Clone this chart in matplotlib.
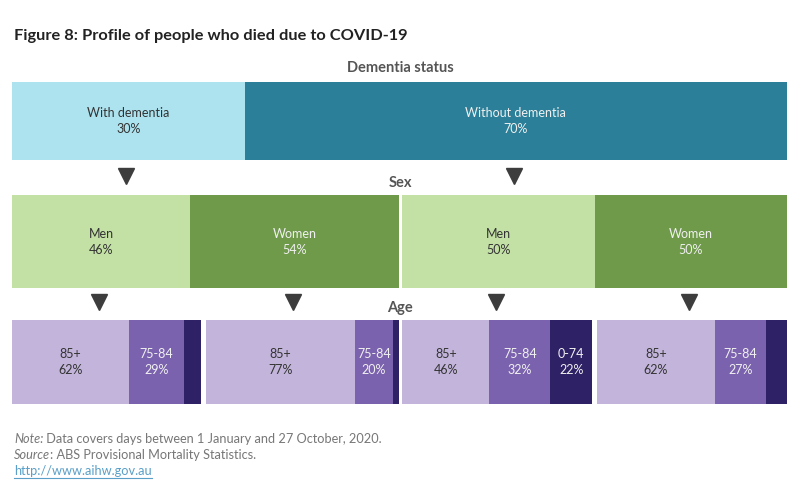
import matplotlib.pyplot as plt

plt.rcParams["font.family"] = ["Lato", "DejaVu Sans"]

# data
dementia_labels = ["With dementia", "Without dementia"]
dementia_share = [30, 70]
sex_labels = ["Men", "Women"]
sex_share = [[46, 54], [50, 50]]
age_labels = ["85+", "75-84", "0-74"]
age_share = [[62, 29, 9], [77, 20, 3], [46, 32, 22], [62, 27, 11]]

dementia_colors = ["#ade3ef", "#2b7f98"]
sex_colors = ["#c3e0a5", "#6f9a4a"]
age_colors = ["#c2b4da", "#7b62ae", "#2e2166"]
dark_text = "#333333"
light_text = "#f0f0f0"

fig = plt.figure(figsize=(8, 5), dpi=100)
ax = fig.add_axes([0, 0, 1, 1])
ax.set_xlim(0, 800)
ax.set_ylim(500, 0)
ax.axis("off")


def draw_row(shares, labels, colors, text_colors, x0, width, yc, h, min_label=15):
    left = x0
    centers = []
    for share, lab, col, tc in zip(shares, labels, colors, text_colors):
        w = share / sum(shares) * width
        ax.barh(yc, w, left=left, height=h, color=col, linewidth=0)
        if share >= min_label:
            ax.text(left + w / 2, yc - 8, lab, ha="center", va="center",
                    fontsize=9, color=tc)
            ax.text(left + w / 2, yc + 8, f"{share}%", ha="center", va="center",
                    fontsize=9, color=tc)
        centers.append(left + w / 2)
        left += w
    return centers


# dementia row
dem_centers = draw_row(dementia_share, dementia_labels, dementia_colors,
                       [dark_text, light_text], 12, 775, 121, 78)
ax.text(400, 68, "Dementia status", ha="center", va="center",
        fontsize=10.5, color="#555555", fontweight="bold")
for c in dem_centers:
    ax.plot(c - 2, 176, marker="v", markersize=12, color="#3d3d3d")

# sex row
ax.text(400, 183, "Sex", ha="center", va="center", fontsize=10.5,
        color="#555555", fontweight="bold")
sex_panels = [(12, 387), (402, 385)]
sex_centers = []
for (x0, w), shares in zip(sex_panels, sex_share):
    sex_centers += draw_row(shares, sex_labels, sex_colors,
                            [dark_text, light_text], x0, w, 241.5, 93)
for c in sex_centers:
    ax.plot(c - 2, 302, marker="v", markersize=12, color="#3d3d3d")

# age row
ax.text(400, 308, "Age", ha="center", va="center", fontsize=10.5,
        color="#555555", fontweight="bold")
age_panels = [(12, 189), (206, 193), (402, 190), (597, 190)]
for (x0, w), shares in zip(age_panels, age_share):
    draw_row(shares, age_labels, age_colors,
             [dark_text, light_text, light_text], x0, w, 362, 84)

# title and notes
ax.text(14, 36, "Figure 8: Profile of people who died due to COVID-19",
        ha="left", va="center", fontsize=11.8, fontweight="bold", color="#222222")
note_kw = dict(fontsize=9.2, color="#777777", va="center")
t = ax.text(14, 439, "Note:", ha="left", style="italic", **note_kw)
ax.annotate(" Data covers days between 1 January and 27 October, 2020.",
            xy=(1, 0.5), xycoords=t, ha="left", **note_kw)
t = ax.text(14, 455, "Source", ha="left", style="italic", **note_kw)
ax.annotate(": ABS Provisional Mortality Statistics.",
            xy=(1, 0.5), xycoords=t, ha="left", **note_kw)
url = ax.text(14, 471, "http://www.aihw.gov.au", ha="left", va="center",
              fontsize=9.2, color="#5a9fc8")
fig.canvas.draw()
bb = url.get_window_extent().transformed(ax.transData.inverted())
ax.plot([bb.x0, bb.x1], [478, 478], color="#5a9fc8", linewidth=0.8)

fig.savefig("out.png", dpi=100)
